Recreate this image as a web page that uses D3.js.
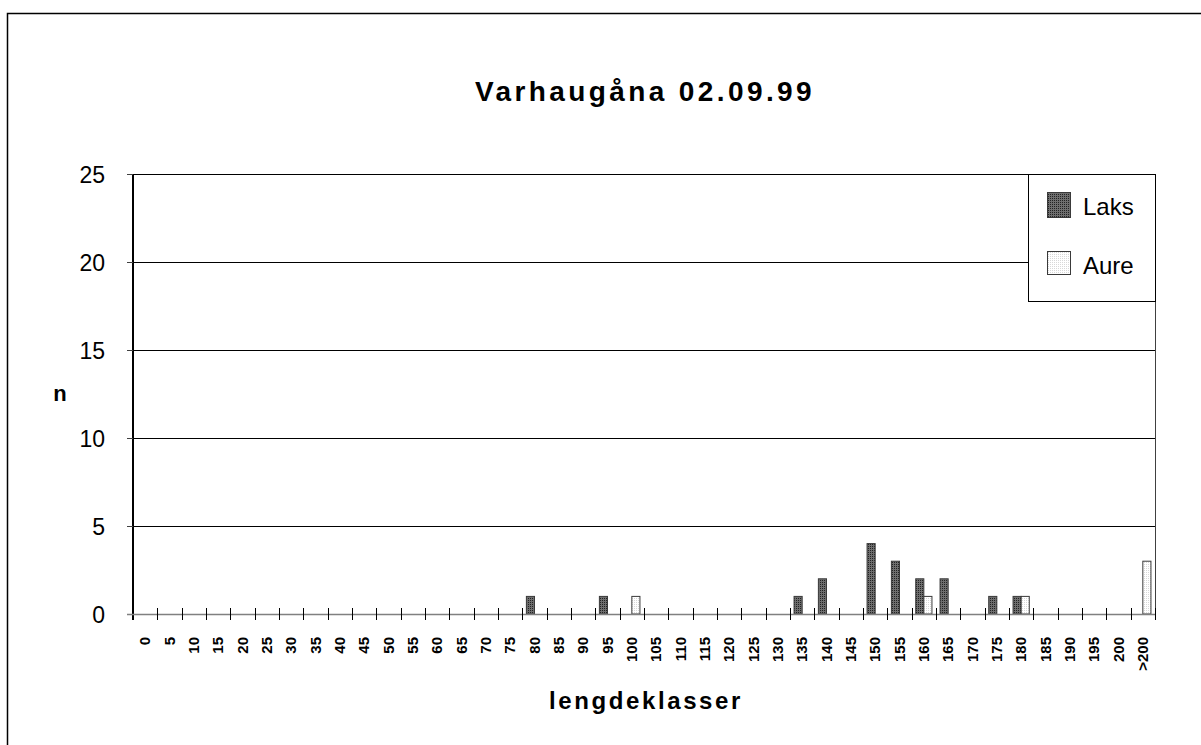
<!DOCTYPE html>
<html>
<head>
<meta charset="utf-8">
<script src="https://cdn.jsdelivr.net/npm/d3@7"></script>
<style>
    body { margin: 0; background: #fff; }
    text { font-family: Arial, "Liberation Sans", sans-serif; fill: #000; }
</style>
</head>
<body>
<div id="chart"></div>
<script>
// length classes (mm) shown on the x axis
var categories = ["0","5","10","15","20","25","30","35","40","45","50","55","60","65","70","75",
    "80","85","90","95","100","105","110","115","120","125","130","135","140","145","150",
    "155","160","165","170","175","180","185","190","195","200",">200"];

// counts per class (classes not listed are 0)
var laksClasses = ["80","95","135","140","150","155","160","165","175","180"];
var laksValues  = [1, 1, 1, 2, 4, 3, 2, 2, 1, 1];
var aureClasses = ["100","160","180",">200"];
var aureValues  = [1, 1, 1, 3];

var seriesNames = ["Laks", "Aure"];
var yTicks = [0, 5, 10, 15, 20, 25];

var width = 1201, height = 745;
var margin = {top: 174, right: 46, bottom: 131, left: 133};

var svg = d3.select("#chart").append("svg")
    .attr("width", width)
    .attr("height", height);

svg.append("rect")
    .attr("width", width)
    .attr("height", height)
    .attr("fill", "#fff");

//dotted fills like the old spreadsheet patterns
var defs = svg.append("defs");
function dotPattern(id, bg, dot){
    var p = defs.append("pattern")
        .attr("id", id)
        .attr("width", 2)
        .attr("height", 2)
        .attr("patternUnits", "userSpaceOnUse");
    p.append("rect").attr("width", 2).attr("height", 2).attr("fill", bg);
    p.append("rect").attr("width", 1).attr("height", 1).attr("fill", dot);
}
dotPattern("patLaks", "#6e6e6e", "#222222");
dotPattern("patAure", "#ffffff", "#d8d8d8");
var fills = {"Laks": "url(#patLaks)", "Aure": "url(#patAure)"};

//outer chart frame (runs off the right and bottom edges)
svg.append("rect")
    .attr("x", 7.5)
    .attr("y", 13.5)
    .attr("width", width + 20)
    .attr("height", height + 20)
    .attr("fill", "none")
    .attr("stroke", "#000")
    .attr("stroke-width", 1.5);

var x0 = d3.scaleBand()
    .domain(categories)
    .range([margin.left, width - margin.right]);

var bw = x0.bandwidth();
var x1 = d3.scaleBand()
    .domain(seriesNames)
    .range([bw / 6, bw * 5 / 6]);

var y = d3.scaleLinear()
    .domain([0, 25])
    .range([height - margin.bottom, margin.top]);

var plotLeft = margin.left, plotRight = width - margin.right;

//horizontal gridlines
svg.append("g").selectAll("line")
    .data(yTicks.filter(function(d){ return d > 0; }))
    .enter().append("line")
    .attr("x1", plotLeft)
    .attr("x2", plotRight)
    .attr("y1", function(d){ return Math.round(y(d)) + 0.5; })
    .attr("y2", function(d){ return Math.round(y(d)) + 0.5; })
    .attr("stroke", "#000")
    .attr("stroke-width", 1);

//right border of plot area
svg.append("line")
    .attr("x1", plotRight + 0.5).attr("x2", plotRight + 0.5)
    .attr("y1", y(25)).attr("y2", y(0) + 6)
    .attr("stroke", "#404040");

//bars
var barData = [];
laksClasses.forEach(function(c, i){ barData.push({cat: c, series: "Laks", value: laksValues[i]}); });
aureClasses.forEach(function(c, i){ barData.push({cat: c, series: "Aure", value: aureValues[i]}); });

svg.append("g").selectAll("rect")
    .data(barData)
    .enter().append("rect")
    .attr("x", function(d){ return x0(d.cat) + x1(d.series); })
    .attr("y", function(d){ return y(d.value); })
    .attr("width", x1.bandwidth())
    .attr("height", function(d){ return y(0) - y(d.value); })
    .attr("fill", function(d){ return fills[d.series]; })
    .attr("stroke", "#3a3a3a")
    .attr("stroke-width", 1);

//y axis
var yAxis = d3.axisLeft(y)
    .tickValues(yTicks)
    .tickSize(6)
    .tickPadding(22);
var gy = svg.append("g")
    .attr("transform", "translate(" + plotLeft + ",0)")
    .call(yAxis);
gy.select(".domain").attr("stroke", "#000").attr("stroke-width", 2)
    .attr("d", "M0," + y(25) + "V" + (y(0) + 6));
gy.selectAll(".tick line").attr("stroke", "#404040");
gy.selectAll(".tick text")
    .attr("font-size", 23)
    .attr("font-family", "Arial, 'Liberation Sans', sans-serif")
    .attr("fill", "#000")
    .attr("dy", "0.36em");

//x axis baseline and category ticks (cross style)
svg.append("line")
    .attr("x1", plotLeft - 6).attr("x2", plotRight)
    .attr("y1", y(0) + 0.5).attr("y2", y(0) + 0.5)
    .attr("stroke", "#808080")
    .attr("stroke-width", 1.5);

var bounds = categories.map(function(c){ return x0(c); }).concat([plotRight]);
svg.append("g").selectAll("line")
    .data(bounds.slice(1))
    .enter().append("line")
    .attr("x1", function(d){ return Math.round(d) + 0.5; })
    .attr("x2", function(d){ return Math.round(d) + 0.5; })
    .attr("y1", y(0) - 6)
    .attr("y2", y(0) + 6)
    .attr("stroke", "#000");

svg.append("g").selectAll("text")
    .data(categories)
    .enter().append("text")
    .attr("transform", function(d){
        return "translate(" + (x0(d) + bw / 2 + 5) + "," + (y(0) + 23) + ") rotate(-90)";
    })
    .attr("text-anchor", "end")
    .attr("font-size", 15)
    .attr("font-weight", "bold")
    .text(function(d){ return d; });

//titles
svg.append("text")
    .attr("x", 645)
    .attr("y", 101)
    .attr("text-anchor", "middle")
    .attr("font-size", 28)
    .attr("font-weight", "bold")
    .attr("letter-spacing", 3.4)
    .text("Varhaugåna 02.09.99");

svg.append("text")
    .attr("x", 646)
    .attr("y", 709)
    .attr("text-anchor", "middle")
    .attr("font-size", 24)
    .attr("font-weight", "bold")
    .attr("letter-spacing", 2.6)
    .text("lengdeklasser");

svg.append("text")
    .attr("x", 60)
    .attr("y", 401)
    .attr("text-anchor", "middle")
    .attr("font-size", 22)
    .attr("font-weight", "bold")
    .text("n");

//legend
var legend = svg.append("g");
legend.append("rect")
    .attr("x", 1028.5)
    .attr("y", 174.5)
    .attr("width", 127)
    .attr("height", 127)
    .attr("fill", "#fff")
    .attr("stroke", "#000");

var legendRows = [{name: "Laks", y: 192, h: 25}, {name: "Aure", y: 251, h: 23}];
legend.selectAll(".sw")
    .data(legendRows)
    .enter().append("rect")
    .attr("class", "sw")
    .attr("x", 1047.5)
    .attr("y", function(d){ return d.y + 0.5; })
    .attr("width", 23)
    .attr("height", function(d){ return d.h; })
    .attr("fill", function(d){ return fills[d.name]; })
    .attr("stroke", "#3a3a3a");

legend.selectAll(".lt")
    .data(legendRows)
    .enter().append("text")
    .attr("class", "lt")
    .attr("x", 1083)
    .attr("y", function(d){ return d.y + 23; })
    .attr("font-size", 24)
    .text(function(d){ return d.name; });
</script>
</body>
</html>
